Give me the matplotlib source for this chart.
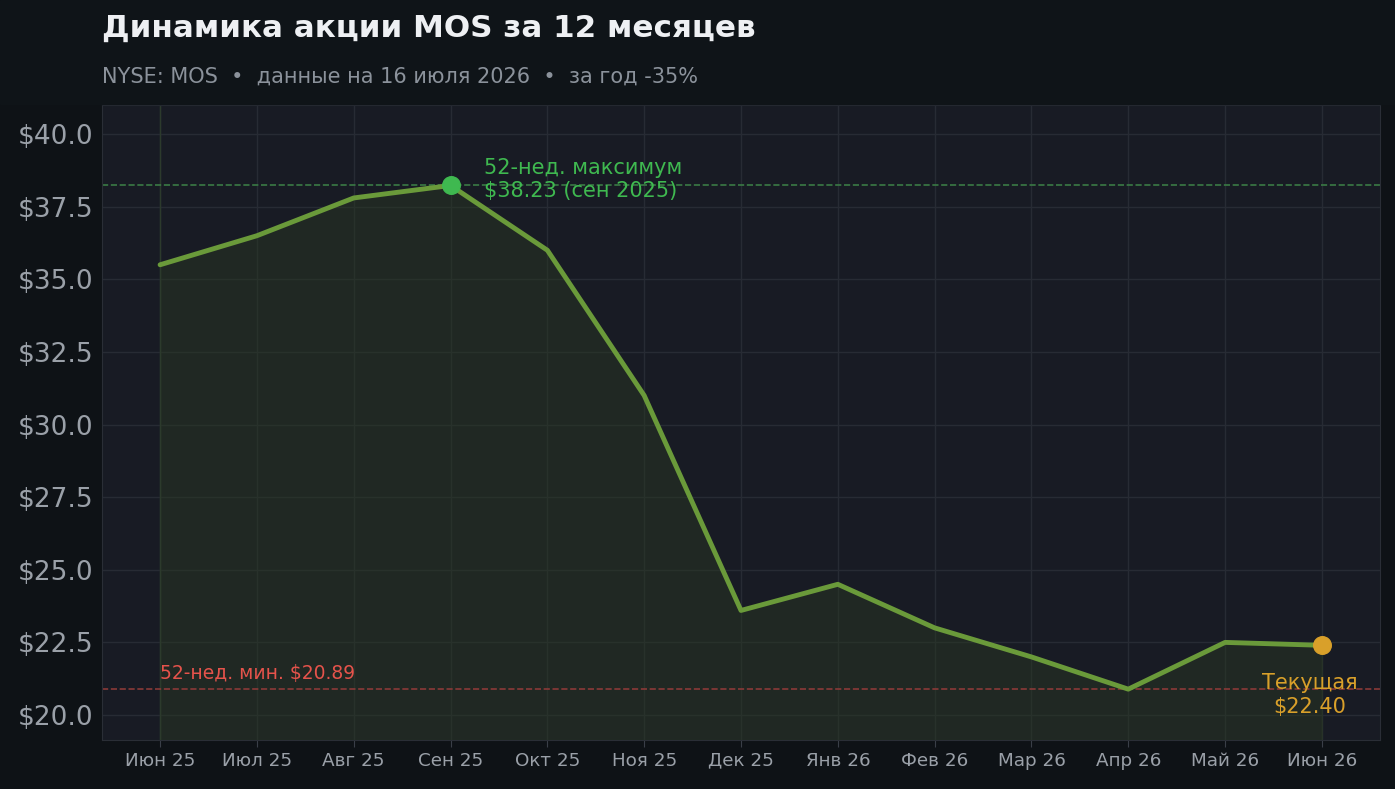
import matplotlib
matplotlib.use("Agg")
import matplotlib.pyplot as plt

months = ["Июн 25", "Июл 25", "Авг 25", "Сен 25", "Окт 25", "Ноя 25", "Дек 25",
          "Янв 26", "Фев 26", "Мар 26", "Апр 26", "Май 26", "Июн 26"]
prices = [35.5, 36.5, 37.8, 38.23, 36.0, 31.0, 23.6, 24.5, 23.0, 22.0, 20.89, 22.5, 22.4]
high_value = 38.23
low_value = 20.89
current_value = 22.40

fig = plt.figure(figsize=(13.95, 7.89), dpi=100, facecolor="#0e1216")
fig.patches.append(plt.Rectangle((0, 1 - 104 / 789), 1, 104 / 789, transform=fig.transFigure,
                                 color="#0f1418", zorder=0))
ax = fig.add_axes([102 / 1395, 1 - 740 / 789, 1278 / 1395, 635 / 789])
ax.set_facecolor("#181b24")

x = list(range(len(months)))
ax.fill_between(x, prices, 19.14, color="#2a3a22", alpha=0.45, zorder=1)
ax.plot(x, prices, color="#6a9a3a", lw=3.5, zorder=3, solid_capstyle="round")

ax.axhline(high_value, color="#3a7a45", ls="--", lw=1.2, zorder=2)
ax.axhline(low_value, color="#8a3a38", ls="--", lw=1.2, zorder=2)
ax.axvline(0, color="#2c3a2c", lw=1, zorder=1)

hi = prices.index(high_value)
ax.scatter([hi], [high_value], s=160, color="#3fb950", zorder=4)
ax.scatter([len(prices) - 1], [current_value], s=160, color="#d9a02a", zorder=4)

ax.text(hi + 0.35, high_value + 0.2, "52-нед. максимум\n$38.23 (сен 2025)", color="#3fb950",
        fontsize=15, va="center", ha="left", linespacing=1.2)
ax.text(0, low_value + 0.2, "52-нед. мин. $20.89", color="#e5534b", fontsize=13.5,
        va="bottom", ha="left")
ax.text(len(prices) - 1.13, low_value - 0.2, "Текущая\n$22.40", color="#d9a02a",
        fontsize=15, va="center", ha="center", linespacing=1.2)

ax.set_xlim(-0.6, 12.6)
ax.set_ylim(19.14, 41.0)
ax.set_xticks(x)
ax.set_xticklabels(months)
yt = [20, 22.5, 25, 27.5, 30, 32.5, 35, 37.5, 40]
ax.set_yticks(yt)
ax.set_yticklabels([f"${v:.1f}" for v in yt])
ax.tick_params(axis="x", colors="#9aa0a8", labelsize=13.2, length=5, color="#3a3f48")
ax.tick_params(axis="y", colors="#9aa0a8", labelsize=19, length=0, pad=6)
ax.grid(True, color="#272b34", lw=1)
ax.set_axisbelow(True)
for s in ax.spines.values():
    s.set_color("#2a2e36")

fig.text(102 / 1395, 1 - 28 / 789, "Динамика акции MOS за 12 месяцев", color="#eef0f3",
         fontsize=22.3, fontweight="bold", va="center")
fig.text(102 / 1395, 1 - 77 / 789, "NYSE: MOS  •  данные на 16 июля 2026  •  за год -35%",
         color="#8b929b", fontsize=15, va="center")

fig.savefig("out.png", dpi=100, facecolor=fig.get_facecolor())
